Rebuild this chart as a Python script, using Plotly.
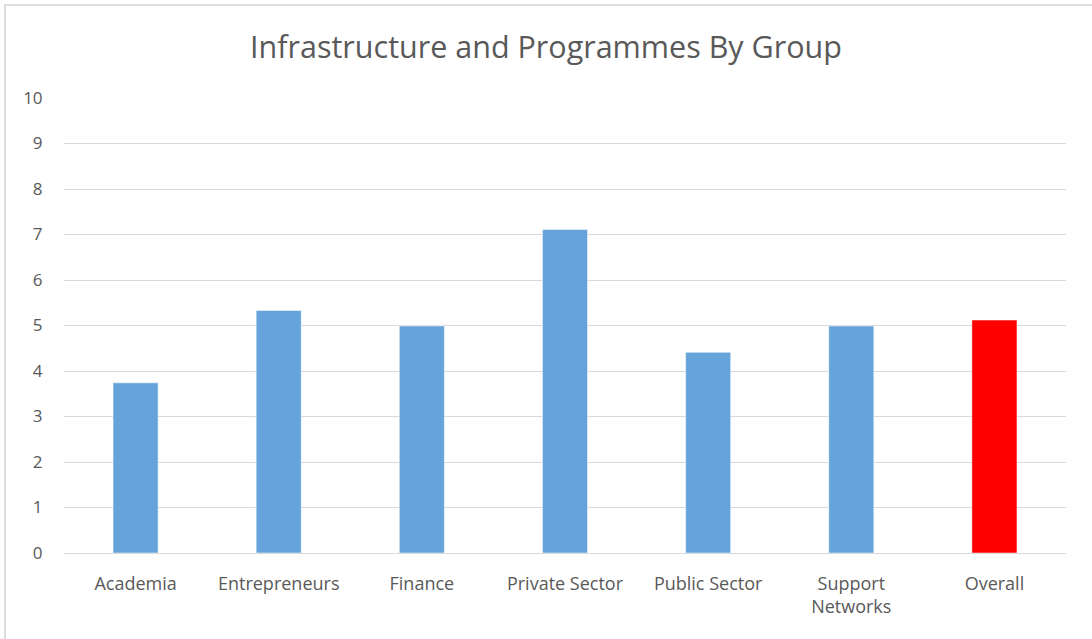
import plotly.graph_objects as go

categories = ["Academia", "Entrepreneurs", "Finance", "Private Sector",
              "Public Sector", "Support<br>Networks", "Overall"]
values = [3.74, 5.33, 4.99, 7.11, 4.41, 4.99, 5.12]
bar_colors = ["#65a3da"] * 6 + ["#ff0000"]
y_ticks = list(range(0, 11))

W, H = 1092, 639
L, R, T, B = 64, 26, 98, 86

fig = go.Figure(go.Bar(
    x=categories, y=values,
    marker=dict(color=bar_colors, line=dict(color="rgba(255,255,255,0.5)", width=1)),
    width=0.315,
))

pw = W - L - R
ph = H - T - B
x0 = (5 - L) / pw
x1 = (1100 - L) / pw
y0 = 1 - (650 - T) / ph
y1 = 1 - (5 - T) / ph

fig.update_layout(
    width=W, height=H,
    margin=dict(l=L, r=R, t=T, b=B),
    paper_bgcolor="white", plot_bgcolor="white",
    font=dict(family="Open Sans", color="#595959"),
    title=dict(text="Infrastructure and Programmes By Group",
               x=0.5, xanchor="center", y=1 - 47 / H, yanchor="middle",
               font=dict(size=30.5, color="#595959", family="Open Sans")),
    showlegend=False,
    xaxis=dict(showgrid=False, showline=True, linecolor="#d9d9d9", linewidth=1,
               ticks="outside", ticklen=14, tickcolor="rgba(0,0,0,0)",
               tickfont=dict(size=18, color="#595959")),
    yaxis=dict(range=[0, 10], tickvals=y_ticks, showgrid=True, gridcolor="#d9d9d9",
               gridwidth=1, zeroline=False, showline=False,
               ticks="outside", ticklen=17, tickcolor="rgba(0,0,0,0)",
               tickfont=dict(size=17, color="#595959")),
    shapes=[dict(type="rect", xref="paper", yref="paper", x0=x0, x1=x1, y0=y0, y1=y1,
                 line=dict(color="#d4d4d4", width=1.5), fillcolor="rgba(0,0,0,0)", layer="below")],
)

fig.write_html("out.html", config={"displayModeBar": False},
               post_script="document.body.style.margin='0';")
